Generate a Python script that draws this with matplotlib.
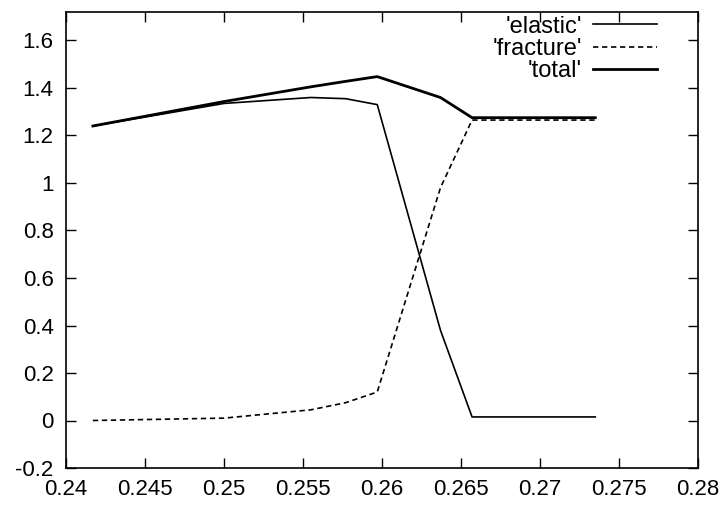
import matplotlib
matplotlib.use("Agg")
import matplotlib.pyplot as plt
from matplotlib.ticker import MultipleLocator, FuncFormatter

# strain samples and energy components
strain = [0.2417, 0.2500, 0.2555, 0.2577, 0.2597, 0.2637, 0.2657, 0.2735]
elastic = [1.240, 1.335, 1.360, 1.355, 1.330, 0.380, 0.015, 0.015]
fracture = [0.000, 0.010, 0.045, 0.075, 0.120, 0.980, 1.265, 1.265]
total = [1.240, 1.343, 1.405, 1.428, 1.448, 1.360, 1.275, 1.275]

series_names = ["'elastic'", "'fracture'", "'total'"]

plt.rcParams["font.family"] = ["Liberation Sans", "DejaVu Sans"]

fig = plt.figure(figsize=(7.22, 5.17), dpi=100)
ax = fig.add_axes([66 / 722, 1 - 468 / 517, 632 / 722, 456 / 517])

ax.plot(strain, elastic, color="black", lw=1.2, label=series_names[0])
ax.plot(strain, fracture, color="black", lw=1.2, ls=(0, (3.2, 2.2)),
        label=series_names[1])
ax.plot(strain, total, color="black", lw=2.0, label=series_names[2])

ax.set_xlim(0.24, 0.28)
ax.set_ylim(-0.2, 1.72)
ax.xaxis.set_major_locator(MultipleLocator(0.005))
ax.yaxis.set_major_locator(MultipleLocator(0.2))


def trim(v, pos):
    s = f"{v:.3f}".rstrip("0").rstrip(".")
    if s in ("-0", "-0.0"):
        s = "0"
    return s


ax.xaxis.set_major_formatter(FuncFormatter(trim))
ax.yaxis.set_major_formatter(FuncFormatter(trim))

ax.tick_params(direction="in", length=7, width=1, top=True, right=True,
               labelsize=16, colors="black")
ax.tick_params(axis="x", pad=8)
ax.tick_params(axis="y", pad=9)
for sp in ax.spines.values():
    sp.set_linewidth(1.2)

leg = ax.legend(loc="upper right", bbox_to_anchor=(0.94, 1.0), frameon=False,
                markerfirst=False, fontsize=17, handlelength=2.7,
                handletextpad=0.45, labelspacing=0.02, borderaxespad=0.0,
                borderpad=0.15, alignment="right")
for t in leg.get_texts():
    t.set_ha("right")

fig.savefig("out.png", dpi=100)
